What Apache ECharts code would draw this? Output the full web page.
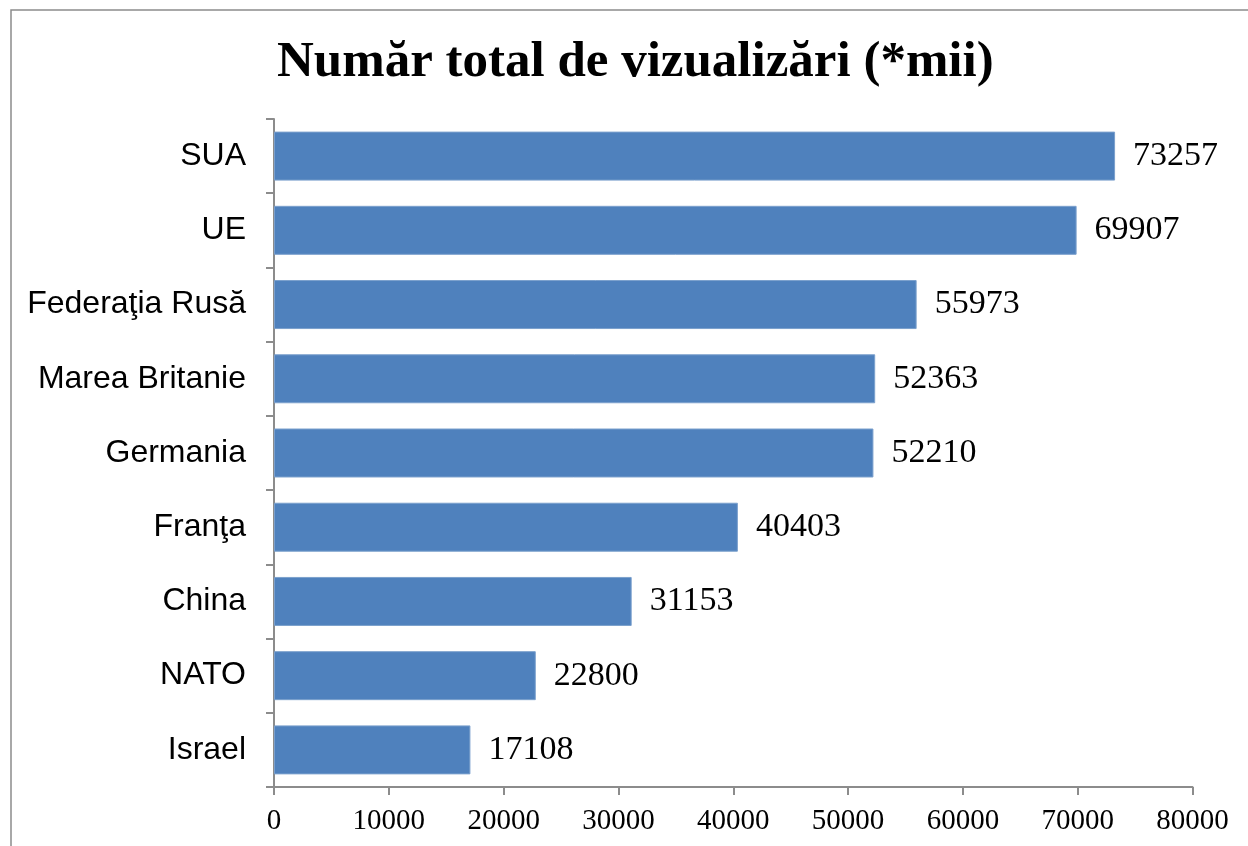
<!DOCTYPE html>
<html>
<head>
<meta charset="utf-8">
<script src="https://cdn.jsdelivr.net/npm/echarts@6/dist/echarts.min.js"></script>
<style>
  html, body { margin: 0; padding: 0; background: #fff; }
  #chart { width: 1248px; height: 846px; }
</style>
</head>
<body>
<div id="chart"></div>
<script>
var titleText = 'Număr total de vizualizări (*mii)';
var countries = ['SUA', 'UE', 'Federaţia Rusă', 'Marea Britanie', 'Germania', 'Franţa', 'China', 'NATO', 'Israel'];
var views = [73257, 69907, 55973, 52363, 52210, 40403, 31153, 22800, 17108];
var axisMin = 0;
var axisMax = 80000;
var axisStep = 10000;

var chart = echarts.init(document.getElementById('chart'));
var axisGray = '#8c8c8c';

var option = {
  backgroundColor: '#fff',
  animation: false,
  title: {
    text: titleText,
    left: 272,
    top: 32,
    textStyle: {
      fontFamily: 'Liberation Serif',
      fontWeight: 'bold',
      fontSize: 51,
      color: '#000'
    }
  },
  graphic: [{
    type: 'rect',
    shape: { x: 11, y: 10, width: 1300, height: 900 },
    style: { fill: 'none', stroke: axisGray, lineWidth: 1.5 },
    silent: true
  }],
  grid: {
    left: 274,
    right: 55.5,
    top: 119,
    bottom: 59
  },
  xAxis: {
    type: 'value',
    min: axisMin,
    max: axisMax,
    interval: axisStep,
    splitLine: { show: false },
    axisLine: { show: true, lineStyle: { color: axisGray, width: 2 } },
    axisTick: { show: true, length: 8, lineStyle: { color: axisGray, width: 2 } },
    axisLabel: {
      margin: 20,
      fontFamily: 'Liberation Serif',
      fontSize: 29,
      color: '#000',
      formatter: function (v) { return String(v); }
    }
  },
  yAxis: {
    type: 'category',
    data: countries,
    inverse: true,
    axisLine: { show: true, lineStyle: { color: axisGray, width: 2 } },
    axisTick: { show: true, length: 8, lineStyle: { color: axisGray, width: 2 } },
    axisLabel: {
      margin: 28,
      fontFamily: 'Liberation Sans',
      fontSize: 32,
      color: '#000'
    }
  },
  series: [{
    type: 'bar',
    data: views,
    barCategoryGap: '34%',
    itemStyle: {
      color: '#4F81BD',
      borderColor: '#7BA0CD',
      borderWidth: 1
    },
    label: {
      show: true,
      position: 'right',
      distance: 18,
      fontFamily: 'Liberation Serif',
      fontSize: 34,
      color: '#000'
    }
  }]
};

chart.setOption(option);
</script>
</body>
</html>
